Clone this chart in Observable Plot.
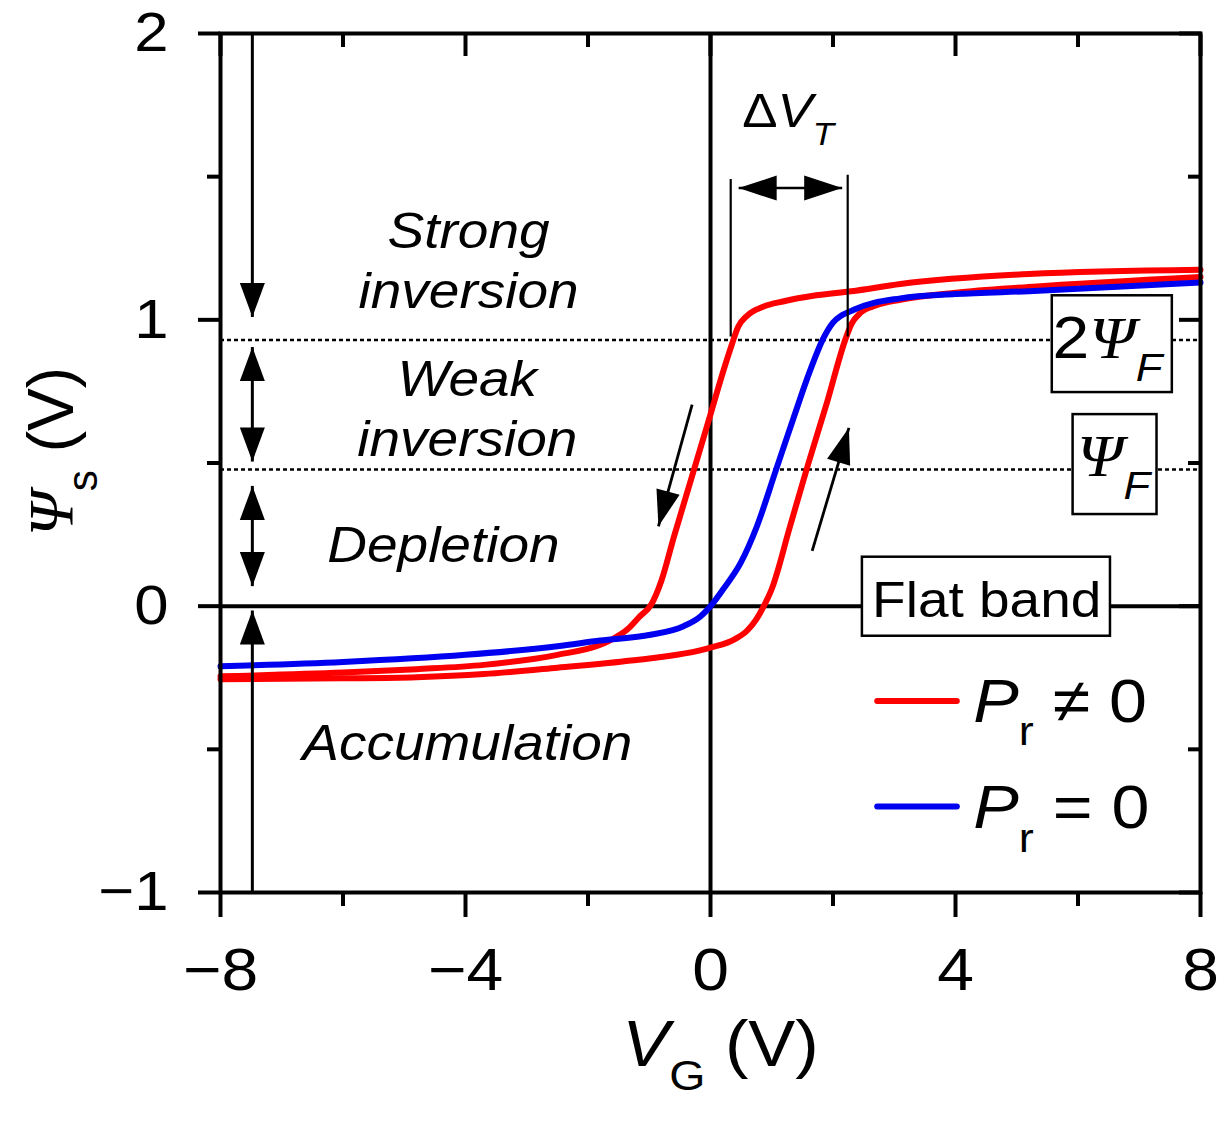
<!DOCTYPE html>
<html>
<head>
<meta charset="utf-8">
<script src="https://cdn.jsdelivr.net/npm/d3@7"></script>
<script src="https://cdn.jsdelivr.net/npm/@observablehq/plot@0.6"></script>
<style>body{margin:0;background:#fff}</style>
</head>
<body>
<script>
// ---- Data ----
// Pr = 0 (blue)
const vgBlue  = [-8, -6, -4, -2.5, -1.8, -0.98, -0.44, -0.16, 0, 0.21, 0.49, 0.76, 1.06, 1.36, 1.63, 1.83, 2.0, 2.34, 3.1, 4, 5.2, 8];
const psiBlue = [-0.21, -0.195, -0.17, -0.14, -0.12, -0.1, -0.07, -0.035, 0, 0.06, 0.15, 0.28, 0.47, 0.66, 0.825, 0.93, 0.99, 1.035, 1.075, 1.09, 1.10, 1.13];
// Pr != 0 (red), forward sweep (lower branch)
const vgRedFwd  = [-8, -6, -4.8, -3.7, -2.5, -1.3, 0, 0.4, 0.6, 0.75, 0.87, 1.0, 1.3, 1.6, 1.9, 2.2, 2.3, 2.45, 2.7, 3.1, 4, 5.2, 8];
const psiRedFwd = [-0.255, -0.252, -0.248, -0.237, -0.215, -0.19, -0.145, -0.115, -0.085, -0.045, 0, 0.06, 0.28, 0.5, 0.71, 0.93, 0.985, 1.025, 1.05, 1.07, 1.095, 1.115, 1.15];
// Pr != 0 (red), backward sweep (upper branch)
const vgRedBwd  = [-8, -6, -4.8, -3.7, -2.5, -1.8, -1.6, -1.35, -1.15, -0.97, -0.8, -0.6, -0.3, 0, 0.2, 0.35, 0.45, 0.6, 0.85, 1.2, 1.7, 2.3, 3.1, 5.2, 8];
const psiRedBwd = [-0.245, -0.232, -0.22, -0.205, -0.17, -0.135, -0.115, -0.08, -0.035, 0.005, 0.09, 0.24, 0.455, 0.67, 0.815, 0.915, 0.975, 1.015, 1.045, 1.065, 1.085, 1.10, 1.125, 1.16, 1.175];

const xTicks = [-8, -4, 0, 4, 8];
const xMinorTicks = [-6, -2, 2, 6];
const yTicks = [-1, 0, 1, 2];
const yMinorTicks = [-0.5, 0.5, 1.5];
const levels = [0.93, 0.477];          // 2ΨF, ΨF
const deltaVT = [0.33, 2.24];          // threshold voltages of the two red branches

// ---- Layout ----
const W = 1225, H = 1124, ML = 220, MR = 25, MT = 33, MB = 232;
const kx = (W - ML - MR) / 16, ky = (H - MT - MB) / 3;

const toRows = (xs, ys) => xs.map((x, i) => ({vg: x, psi: ys[i]}));
const blue = toRows(vgBlue, psiBlue);
const redFwd = toRows(vgRedFwd, psiRedFwd);
const redBwd = toRows(vgRedBwd, psiRedBwd);

const fmt = d => d < 0 ? "\u2212" + Math.abs(d) : String(d);

// annotations
const regionLabels = [
  {x: -3.95, y: 1.213, text: "Strong\ninversion"},
  {x: -3.97, y: 0.697, text: "Weak\ninversion"},
  {x: -4.36, y: 0.22, text: "Depletion"},
  {x: -3.97, y: -0.47, text: "Accumulation"}
];
const sideArrows = [
  {x1: -7.48, y1: 2.0, x2: -7.48, y2: 1.01, both: false},
  {x1: -7.48, y1: 0.905, x2: -7.48, y2: 0.505, both: true},
  {x1: -7.48, y1: 0.42, x2: -7.48, y2: 0.07, both: true},
  {x1: -7.48, y1: -1.0, x2: -7.48, y2: -0.015, both: false}
];
const dvtArrow = [{x1: 0.46, y1: 1.46, x2: 2.15, y2: 1.46, both: true}];
const sweepArrows = [
  {x1: -0.30, y1: 0.704, x2: -0.85, y2: 0.279, both: false},
  {x1: 1.66, y1: 0.193, x2: 2.26, y2: 0.623, both: false}
];
const boxes = [
  {x1: 5.58, x2: 7.54, y1: 0.746, y2: 1.084},
  {x1: 5.92, x2: 7.29, y1: 0.32, y2: 0.669},
  {x1: 2.48, x2: 6.53, y1: -0.105, y2: 0.171}
];

function headsOf(arrows) {
  const out = [];
  for (const a of arrows) {
    const ang = Math.atan2((a.x2 - a.x1) * kx, (a.y2 - a.y1) * ky) * 180 / Math.PI;
    out.push({x: a.x2, y: a.y2, r: ang});
    if (a.both) out.push({x: a.x1, y: a.y1, r: ang + 180});
  }
  return out;
}
function headSymbol(L, Wd) {
  return {draw(ctx) { ctx.moveTo(0, 0); ctx.lineTo(Wd / 2, L); ctx.lineTo(-Wd / 2, L); ctx.closePath(); }};
}
function arrowMarks(arrows, L, Wd, sw) {
  return [
    Plot.link(arrows, {x1: "x1", y1: "y1", x2: "x2", y2: "y2", stroke: "black", strokeWidth: sw}),
    Plot.dot(headsOf(arrows), {x: "x", y: "y", rotate: "r", symbol: headSymbol(L, Wd), fill: "black", stroke: "none"})
  ];
}

const RICH = {
  "ΔV_T": [["Δ"], ["V", "i"], ["T", "i sub"]],
  "2Ψ_F": [["2"], ["Ψ", "i serif"], ["F", "i sub"]],
  "Ψ_F": [["Ψ", "i serif"], ["F", "i sub"]],
  "P_r ≠ 0": [["P", "i"], ["r", "sub"], [" ≠ 0"]],
  "P_r = 0": [["P", "i"], ["r", "sub"], [" = 0"]],
  "V_G (V)": [["V", "i"], ["G", "sub"], [" (V)"]],
  "Ψ_s (V)": [["Ψ", "i serif"], ["s", "sub"], [" (V)"]]
};

const RED = "#ff0000", BLUE = "#0000f0";

const chart = Plot.plot({
  width: W, height: H,
  marginLeft: ML, marginRight: MR, marginTop: MT, marginBottom: MB,
  x: {domain: [-8, 8]},
  y: {domain: [-1, 2]},
  style: {fontFamily: "'Liberation Sans', Arial, sans-serif", background: "white", color: "black"},
  marks: [
    Plot.ruleY(levels, {strokeDasharray: "4,3", strokeWidth: 2.5}),
    Plot.ruleX([0], {strokeWidth: 4}),
    Plot.ruleY([0], {strokeWidth: 4}),
    Plot.line(redBwd, {x: "vg", y: "psi", stroke: RED, strokeWidth: 6, curve: "monotone-x"}),
    Plot.line(redFwd, {x: "vg", y: "psi", stroke: RED, strokeWidth: 6, curve: "monotone-x"}),
    Plot.line(blue, {x: "vg", y: "psi", stroke: BLUE, strokeWidth: 6, curve: "monotone-x"}),
    Plot.ruleX(deltaVT, {y1: 0.94, y2: [1.49, 1.505], strokeWidth: 2.2}),
    ...arrowMarks(sideArrows, 34, 25, 3),
    ...arrowMarks(dvtArrow, 38, 25, 2.5),
    ...arrowMarks(sweepArrows, 36, 24, 2.8),
    Plot.rect(boxes, {x1: "x1", x2: "x2", y1: "y1", y2: "y2", fill: "white", stroke: "black", strokeWidth: 2.5}),
    Plot.text(regionLabels, {x: "x", y: "y", text: "text", fontSize: 50, fontStyle: "italic", lineHeight: 1.2, textAnchor: "middle"}),
    Plot.text(["ΔV_T"], {x: 0.52, y: 1.728, text: d => d, fontSize: 48, textAnchor: "start"}),
    Plot.text(["2Ψ_F"], {x: 6.48, y: 0.934, text: d => d, fontSize: 60, textAnchor: "middle"}),
    Plot.text(["Ψ_F"], {x: 6.58, y: 0.52, text: d => d, fontSize: 60, textAnchor: "middle"}),
    Plot.text(["Flat band"], {x: 4.51, y: 0.017, text: d => d, fontSize: 50, textAnchor: "middle"}),
    // legend
    Plot.ruleY([-0.331], {x1: 2.73, x2: 4.03, stroke: RED, strokeWidth: 6, strokeLinecap: "round"}),
    Plot.ruleY([-0.700], {x1: 2.73, x2: 4.03, stroke: BLUE, strokeWidth: 6, strokeLinecap: "round"}),
    Plot.text(["P_r ≠ 0"], {x: 4.29, y: -0.334, text: d => d, fontSize: 62, textAnchor: "start"}),
    Plot.text(["P_r = 0"], {x: 4.29, y: -0.707, text: d => d, fontSize: 62, textAnchor: "start"}),
    // axis titles
    Plot.text(["V_G (V)"], {x: 0.163, frameAnchor: "bottom", dy: 173, text: d => d, fontSize: 64, textAnchor: "middle"}),
    Plot.text(["Ψ_s (V)"], {y: 0.54, frameAnchor: "left", dx: -168, rotate: -90, text: d => d, fontSize: 64, textAnchor: "middle"}),
    // axes
    Plot.frame({stroke: "black", strokeWidth: 4}),
    Plot.axisX({anchor: "bottom", ticks: xTicks, tickSize: 25, tickPadding: 30, tickFormat: fmt, fontSize: 60, strokeWidth: 4, label: null}),
    Plot.axisX({anchor: "bottom", ticks: xMinorTicks, tickSize: 14, tickFormat: () => "", strokeWidth: 4, label: null}),
    Plot.axisX({anchor: "top", ticks: xTicks, tickSize: -22, tickFormat: () => "", strokeWidth: 4, label: null}),
    Plot.axisX({anchor: "top", ticks: xMinorTicks, tickSize: -13, tickFormat: () => "", strokeWidth: 4, label: null}),
    Plot.axisY({anchor: "left", ticks: yTicks, tickSize: 22, tickPadding: 30, tickFormat: fmt, fontSize: 56, strokeWidth: 4, label: null}),
    Plot.axisY({anchor: "left", ticks: yMinorTicks, tickSize: 13, tickFormat: () => "", strokeWidth: 4, label: null}),
    Plot.axisY({anchor: "right", ticks: yTicks, tickSize: -22, tickFormat: () => "", strokeWidth: 4, label: null}),
    Plot.axisY({anchor: "right", ticks: yMinorTicks, tickSize: -13, tickFormat: () => "", strokeWidth: 4, label: null})
  ]
});
document.body.appendChild(chart);

// rich text (italic / subscripts)
const NS = "http://www.w3.org/2000/svg";
chart.querySelectorAll("text").forEach(t => {
  const spec = RICH[t.textContent];
  if (!spec) return;
  const fs = parseFloat(getComputedStyle(t).fontSize);
  t.textContent = "";
  let shifted = false;
  for (const [str, style = ""] of spec) {
    const toks = style.split(" ");
    const ts = document.createElementNS(NS, "tspan");
    ts.textContent = str;
    const sub = toks.includes("sub");
    ts.setAttribute("font-style", toks.includes("i") ? "italic" : "normal");
    if (toks.includes("serif")) ts.setAttribute("font-family", "'Liberation Serif', serif");
    if (sub && !shifted) { ts.setAttribute("dy", fs * 0.38); shifted = true; }
    else if (!sub && shifted) { ts.setAttribute("dy", -fs * 0.38); shifted = false; }
    if (sub) ts.setAttribute("font-size", fs * 0.66);
    t.appendChild(ts);
  }
});
// slightly wider lettering, as in the reference
chart.querySelectorAll("text").forEach(t => {
  const tr = t.getAttribute("transform");
  if (tr && !tr.includes("rotate")) t.setAttribute("transform", tr + " scale(1.1,1)");
});
</script>
</body>
</html>
